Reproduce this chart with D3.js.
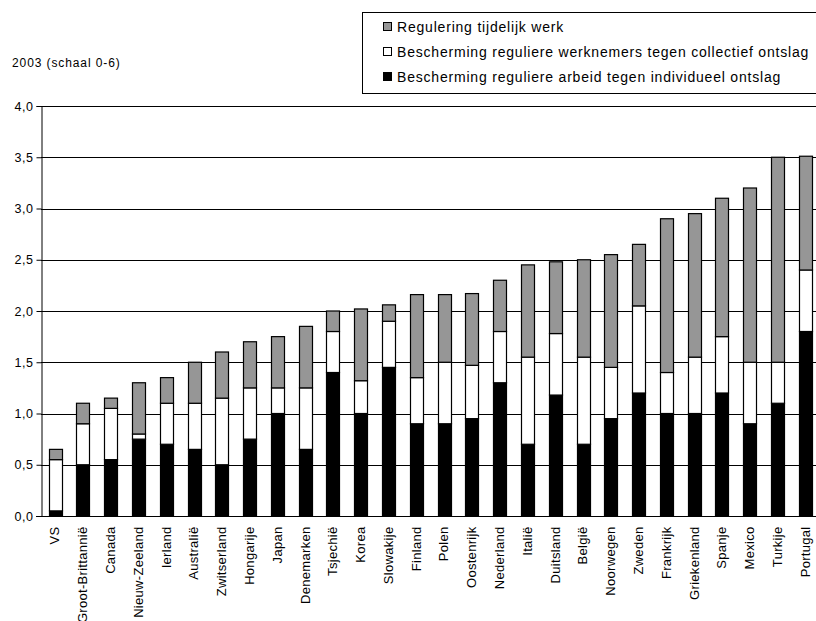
<!DOCTYPE html>
<html>
<head>
<meta charset="utf-8">
<script src="https://cdn.jsdelivr.net/npm/d3@7"></script>
<style>
body { margin:0; background:#fff; }
svg { display:block; font-family:"Liberation Sans", Arial, sans-serif; }
</style>
</head>
<body>
<div id="chart"></div>
<script>
// landen, gesorteerd op totaal
var countries = ['VS','Groot-Brittannië','Canada','Nieuw-Zeeland','Ierland','Australië','Zwitserland',
  'Hongarije','Japan','Denemarken','Tsjechië','Korea','Slowakije','Finland','Polen','Oostenrijk',
  'Nederland','Italië','Duitsland','België','Noorwegen','Zweden','Frankrijk','Griekenland','Spanje',
  'Mexico','Turkije','Portugal'];
// individueel ontslag (zwart)
var individueel = [0.05,0.50,0.55,0.75,0.70,0.65,0.50,0.75,1.00,0.65,1.40,1.00,1.45,0.90,0.90,0.95,
  1.30,0.70,1.18,0.70,0.95,1.20,1.00,1.00,1.20,0.90,1.10,1.80];
// collectief ontslag (wit)
var collectief = [0.50,0.40,0.50,0.05,0.40,0.45,0.65,0.50,0.25,0.60,0.40,0.32,0.45,0.45,0.60,0.52,
  0.50,0.85,0.60,0.85,0.50,0.85,0.40,0.55,0.55,0.60,0.40,0.60];
// tijdelijk werk (grijs)
var tijdelijk = [0.10,0.20,0.10,0.50,0.25,0.40,0.45,0.45,0.50,0.60,0.20,0.70,0.16,0.81,0.66,0.70,
  0.50,0.90,0.70,0.95,1.10,0.60,1.50,1.40,1.35,1.70,2.00,1.11];
var yTicks = [0,0.5,1,1.5,2,2.5,3,3.5,4];
var legendLabels = ['Regulering tijdelijk werk',
  'Bescherming reguliere werknemers tegen collectief ontslag',
  'Bescherming reguliere arbeid tegen individueel ontslag'];

var width = 816, height = 621;
var font = '"Liberation Sans", Arial, sans-serif';
var svg = d3.select('#chart').append('svg')
  .attr('width', width).attr('height', height);

var x = d3.scaleBand().domain(countries).range([41, 819]).paddingInner(0.55).paddingOuter(0.275);
var y = d3.scaleLinear().domain([0,4]).range([516,106]);

var rows = countries.map(function(c,i) {
  return {land:c, ind:individueel[i], col:collectief[i], tijd:tijdelijk[i]};
});
var stack = d3.stack().keys(['ind','col','tijd']);
var series = stack(rows);
var colors = {ind:'#000000', col:'#ffffff', tijd:'#969696'};

// rasterlijnen
svg.append('g').selectAll('line').data(yTicks.slice(1)).join('line')
  .attr('x1',41).attr('x2',width)
  .attr('y1',d=>Math.round(y(d))+0.5).attr('y2',d=>Math.round(y(d))+0.5)
  .attr('stroke','#000').attr('stroke-width',1);

// staven
svg.append('g').selectAll('g').data(series).join('g')
  .attr('fill', d=>colors[d.key])
  .selectAll('rect').data(d=>d).join('rect')
    .attr('x', d=>Math.round(x(d.data.land))+0.5)
    .attr('width', Math.round(x.bandwidth()))
    .attr('y', d=>y(d[1]))
    .attr('height', d=>y(d[0])-y(d[1]))
    .attr('stroke','#000').attr('stroke-width',1.2);

// y-as
var yAxis = svg.append('g').attr('transform','translate(41.5,0)')
  .call(d3.axisLeft(y).tickValues(yTicks).tickSize(5).tickPadding(3)
    .tickFormat(d=>d3.format('.1f')(d).replace('.',',')));
yAxis.select('.domain').attr('stroke','#000');
yAxis.selectAll('text').attr('font-size',12.5).attr('fill','#000')
  .attr('font-family',font).attr('letter-spacing',0.5);

// x-as
var xAxis = svg.append('g').attr('transform','translate(0,516.5)')
  .call(d3.axisBottom(x).tickSize(0).tickPadding(0));
xAxis.select('.domain').remove();
svg.append('line').attr('x1',36).attr('x2',width).attr('y1',516.5).attr('y2',516.5).attr('stroke','#000');
xAxis.selectAll('text')
  .attr('font-size',13).attr('fill','#000')
  .attr('font-family',font).attr('letter-spacing',0.3)
  .attr('transform','rotate(-90)')
  .attr('text-anchor','end')
  .attr('x',-10).attr('y',0).attr('dy','0.35em');

// titel
svg.append('text').attr('x',12).attr('y',67).attr('font-size',12)
  .attr('letter-spacing',0.9)
  .text('2003 (schaal 0-6)');

// legenda
var lg = svg.append('g');
lg.append('rect').attr('x',362.5).attr('y',12.5).attr('width',460).attr('height',81)
  .attr('fill','#fff').attr('stroke','#000');
var legendColors = ['#969696','#ffffff','#000000'];
legendLabels.forEach(function(t,i) {
  var cy = 27 + i*25;
  lg.append('rect').attr('x',383.5).attr('y',cy-4.5).attr('width',8).attr('height',8)
    .attr('fill',legendColors[i]).attr('stroke','#000');
  lg.append('text').attr('x',397).attr('y',cy).attr('dy','0.35em')
    .attr('font-size',14).attr('letter-spacing',0.8).text(t);
});
</script>
</body>
</html>
